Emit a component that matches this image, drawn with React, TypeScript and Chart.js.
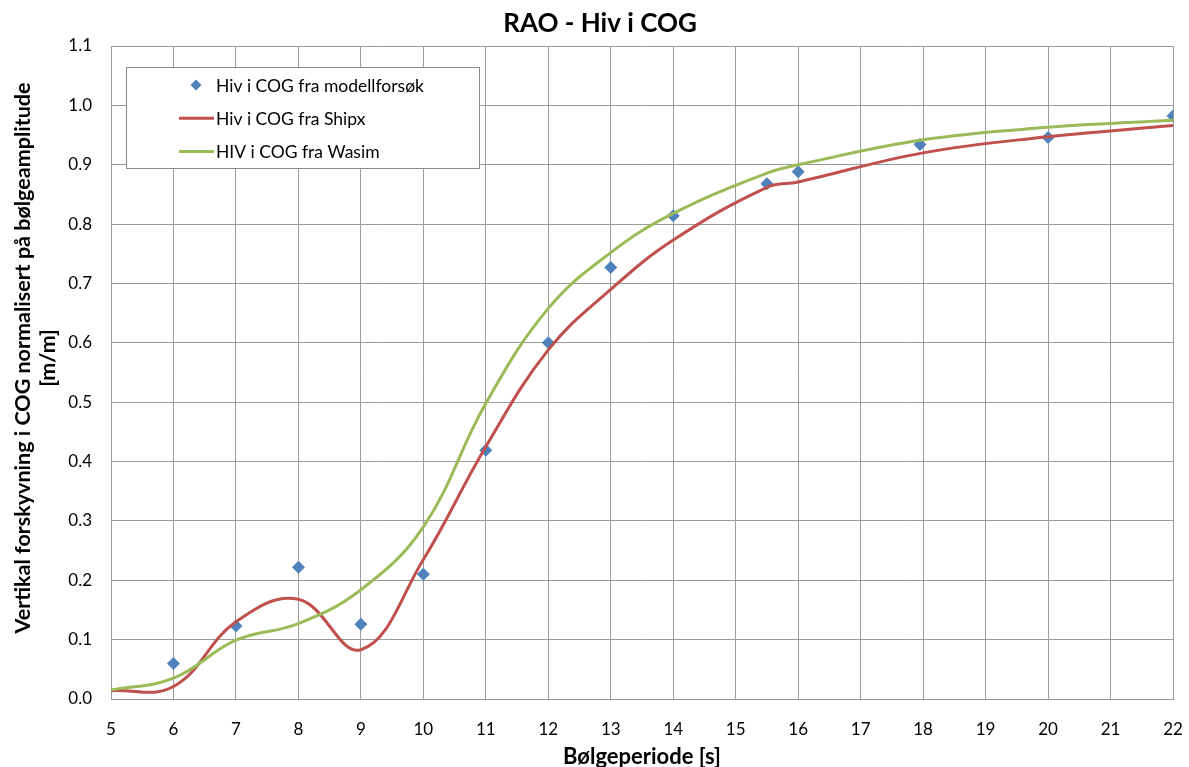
import { useEffect, useRef } from 'react';
import { Chart, registerables } from 'chart.js';

Chart.register(...registerables);

// Wave periods [s] used for the smoothed model curves
const linePeriods = [5, 6, 7, 8, 9, 10, 11, 12, 13, 14, 15.5, 16, 18, 20, 22];
// Heave in COG from ShipX
const shipxValues = [0.014, 0.021, 0.13, 0.168, 0.083, 0.235, 0.425, 0.588, 0.69, 0.773, 0.862, 0.871, 0.92, 0.947, 0.966];
// Heave in COG from Wasim
const wasimValues = [0.015, 0.035, 0.099, 0.127, 0.184, 0.29, 0.498, 0.658, 0.752, 0.818, 0.886, 0.9, 0.942, 0.963, 0.975];
// Model test periods and values
const testPeriods = [6, 7, 8, 9, 10, 11, 12, 13, 14, 15.5, 16, 17.95, 20, 22];
const testValues = [0.06, 0.123, 0.222, 0.126, 0.21, 0.419, 0.6, 0.727, 0.814, 0.868, 0.888, 0.934, 0.946, 0.982];

const seriesLabels = ['Hiv i COG fra modellforsøk', 'Hiv i COG fra Shipx', 'HIV i COG fra Wasim'];
const chartTitle = 'RAO - Hiv i COG';
const xTitle = 'Bølgeperiode [s]';
const yTitleLines = ['Vertikal forskyvning i COG normalisert på bølgeamplitude', '[m/m]'];

const FONT = 'Lato, "Open Sans", sans-serif';
const GRID = '#9a9a9a';

const overlayPlugin = {
  id: 'overlay',
  afterDraw(chart: any) {
    const { ctx, chartArea } = chart;
    ctx.save();
    // legend box inside the plot
    const bx = Math.round(chartArea.left) + 15;
    const by = Math.round(chartArea.top) + 21;
    const bw = 353;
    const bh = 101;
    ctx.fillStyle = '#ffffff';
    ctx.fillRect(bx, by, bw, bh);
    ctx.strokeStyle = '#8a8a8a';
    ctx.lineWidth = 1;
    ctx.strokeRect(bx + 0.5, by + 0.5, bw, bh);
    ctx.font = `17.5px ${FONT}`;
    ctx.textBaseline = 'middle';
    ctx.textAlign = 'left';
    chart.data.datasets.forEach((ds: any, i: number) => {
      const cy = by + 18 + i * 33.3;
      if (ds.showLine === false) {
        const cx = bx + 70;
        const r = 5.5;
        ctx.fillStyle = ds.backgroundColor;
        ctx.beginPath();
        ctx.moveTo(cx - r, cy);
        ctx.lineTo(cx, cy - r);
        ctx.lineTo(cx + r, cy);
        ctx.lineTo(cx, cy + r);
        ctx.closePath();
        ctx.fill();
      } else {
        ctx.strokeStyle = ds.borderColor;
        ctx.lineWidth = 3;
        ctx.beginPath();
        ctx.moveTo(bx + 53, cy);
        ctx.lineTo(bx + 88, cy);
        ctx.stroke();
      }
      ctx.fillStyle = '#000000';
      ctx.fillText(ds.label, bx + 90, cy + 1);
    });
    // y axis title (two rotated lines)
    ctx.font = `bold 21.5px ${FONT}`;
    ctx.textAlign = 'center';
    ctx.fillStyle = '#000000';
    yTitleLines.forEach((line, i) => {
      ctx.save();
      ctx.translate(23 + i * 25, 358);
      ctx.rotate(-Math.PI / 2);
      ctx.fillText(line, 0, 0);
      ctx.restore();
    });
    ctx.restore();
  },
};

export default function App() {
  const canvasRef = useRef<HTMLCanvasElement | null>(null);

  useEffect(() => {
    const canvas = canvasRef.current;
    if (!canvas) return;
    const chart = new Chart(canvas, {
      type: 'scatter',
      data: {
        datasets: [
          {
            label: seriesLabels[0],
            data: testPeriods.map((x, i) => ({ x, y: testValues[i] })),
            showLine: false,
            pointStyle: 'rectRot',
            pointRadius: 6.5,
            pointHoverRadius: 6.5,
            backgroundColor: '#4F81BD',
            borderColor: '#4F81BD',
            borderWidth: 0,
            order: 3,
          },
          {
            label: seriesLabels[1],
            data: linePeriods.map((x, i) => ({ x, y: shipxValues[i] })),
            showLine: true,
            borderColor: '#C0504D',
            backgroundColor: '#C0504D',
            borderWidth: 3,
            pointRadius: 0,
            tension: 0.4,
            order: 2,
          },
          {
            label: seriesLabels[2],
            data: linePeriods.map((x, i) => ({ x, y: wasimValues[i] })),
            showLine: true,
            borderColor: '#9BBB59',
            backgroundColor: '#9BBB59',
            borderWidth: 3,
            pointRadius: 0,
            tension: 0.4,
            order: 1,
          },
        ],
      },
      options: {
        animation: false,
        responsive: false,
        maintainAspectRatio: false,
        layout: { padding: { left: 11, right: 0, top: 0, bottom: 0 } },
        plugins: {
          legend: { display: false },
          tooltip: { enabled: false },
          title: {
            display: true,
            text: chartTitle,
            color: '#000000',
            font: { family: FONT, size: 26, weight: 'bold', lineHeight: 1.2 },
            padding: { top: 8, bottom: 6.8 },
          },
        },
        scales: {
          x: {
            type: 'linear',
            min: 5,
            max: 22,
            afterFit: (s: any) => {
              s.height = 68;
              s.paddingRight = 16;
              s.paddingLeft = 0;
            },
            ticks: {
              stepSize: 1,
              color: '#000000',
              padding: 20,
              font: { family: FONT, size: 17 },
            },
            grid: { color: GRID, lineWidth: 1, drawTicks: false },
            border: { display: true, color: GRID, width: 1 },
            title: {
              display: true,
              text: xTitle,
              color: '#000000',
              font: { family: FONT, size: 22, weight: 'bold', lineHeight: 1 },
              padding: { top: 0, bottom: -1 },
            },
          },
          y: {
            type: 'linear',
            min: 0,
            max: 1.1,
            afterFit: (s: any) => {
              s.width = 100;
            },
            ticks: {
              stepSize: 0.1,
              color: '#000000',
              padding: 19,
              font: { family: FONT, size: 17 },
              callback: (v: any) => Number(v).toFixed(1),
            },
            grid: { color: GRID, lineWidth: 1, drawTicks: false },
            border: { display: true, color: GRID, width: 1 },
          },
        },
      },
      plugins: [overlayPlugin],
    });
    return () => chart.destroy();
  }, []);

  return (
    <div style={{ position: 'absolute', left: 0, top: 0, width: 1189, height: 767, background: '#ffffff' }}>
      <canvas ref={canvasRef} width={1189} height={767} style={{ display: 'block', width: 1189, height: 767 }} />
    </div>
  );
}
